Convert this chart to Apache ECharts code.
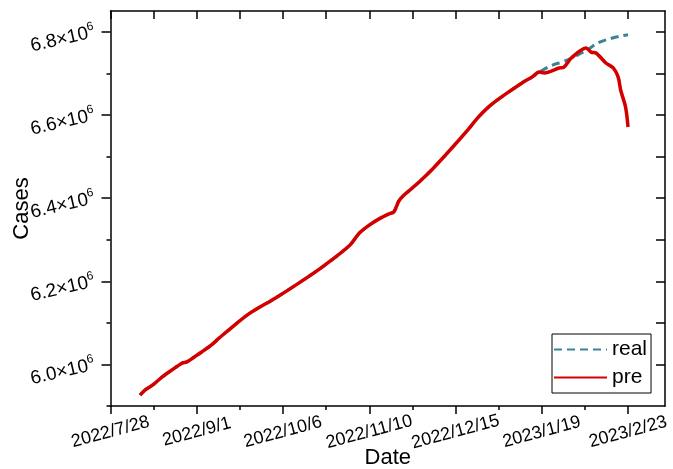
<!DOCTYPE html>
<html><head><meta charset="utf-8">
<script src="https://cdn.jsdelivr.net/npm/echarts@6/dist/echarts.min.js"></script>
<style>html,body{margin:0;padding:0;background:#fff}#c{width:673px;height:469px}</style>
</head><body><div id="c"></div>
<script>
// ---- data ----
const preDates = ['2022-08-09','2022-08-11','2022-08-14','2022-08-18','2022-08-22','2022-08-26','2022-08-28','2022-08-31',
  '2022-09-03','2022-09-07','2022-09-10','2022-09-13','2022-09-22','2022-10-03','2022-10-13','2022-10-23','2022-11-02',
  '2022-11-06','2022-11-10','2022-11-14','2022-11-18','2022-11-20','2022-11-22','2022-11-24','2022-11-27','2022-12-01',
  '2022-12-06','2022-12-11','2022-12-16','2022-12-20','2022-12-24','2022-12-28','2023-01-01','2023-01-05','2023-01-11',
  '2023-01-15','2023-01-18','2023-01-20','2023-01-26','2023-01-28','2023-01-31','2023-02-06','2023-02-08','2023-02-10',
  '2023-02-14','2023-02-17','2023-02-19','2023-02-20','2023-02-22','2023-02-23'];
const preValues = [5926000,5938000,5950000,5970000,5987000,6003000,6006000,6018000,
  6030000,6047000,6063000,6078000,6121000,6160000,6198000,6239000,6286000,
  6316000,6335000,6350000,6362000,6367000,6393000,6407000,6422000,6443000,
  6472000,6504000,6537000,6564000,6593000,6617000,6636000,6653000,6677000,
  6691000,6703000,6701000,6713000,6715000,6737000,6761000,6751000,6749000,
  6725000,6713000,6691000,6660000,6619000,6571000];
const realDates = ['2022-08-09','2022-08-11','2022-08-14','2022-08-18','2022-08-22','2022-08-26','2022-08-28','2022-08-31',
  '2022-09-03','2022-09-07','2022-09-10','2022-09-13','2022-09-22','2022-10-03','2022-10-13','2022-10-23','2022-11-02',
  '2022-11-06','2022-11-10','2022-11-14','2022-11-18','2022-11-20','2022-11-22','2022-11-24','2022-11-27','2022-12-01',
  '2022-12-06','2022-12-11','2022-12-16','2022-12-20','2022-12-24','2022-12-28','2023-01-01','2023-01-05','2023-01-11',
  '2023-01-15','2023-01-18','2023-01-23','2023-01-29','2023-02-06','2023-02-11','2023-02-16','2023-02-21','2023-02-23'];
const realValues = [5926000,5938000,5950000,5970000,5987000,6003000,6006000,6018000,
  6030000,6047000,6063000,6078000,6121000,6160000,6198000,6239000,6286000,
  6316000,6335000,6350000,6362000,6367000,6393000,6407000,6422000,6443000,
  6472000,6504000,6537000,6564000,6593000,6617000,6636000,6653000,6677000,
  6691000,6703000,6719000,6731000,6755000,6774000,6784000,6791000,6793000];
const xTickDates = ['2022-07-28','2022-09-01','2022-10-06','2022-11-10','2022-12-15','2023-01-19','2023-02-23'];
const xStartDate = '2022-07-28';
const xEndDate = '2023-03-10';
const yTicks = [6.0e6, 6.2e6, 6.4e6, 6.6e6, 6.8e6];
const yMinorTicks = [5.9e6, 6.1e6, 6.3e6, 6.5e6, 6.7e6];
const yMin = 5.9e6, yMax = 6.85e6;

// ---- helpers ----
const DAY = 86400000;
const t0 = Date.parse(xStartDate);
const toDay = s => Math.round((Date.parse(s) - t0) / DAY);
const fmtDay = v => { const d = new Date(t0 + v * DAY); return d.getUTCFullYear() + '/' + (d.getUTCMonth() + 1) + '/' + d.getUTCDate(); };
const xMajor = xTickDates.map(toDay);
const xMinor = xMajor.slice(0, -1).map((v, i) => (v + xMajor[i + 1]) / 2);
const xAll = xMajor.concat(xMinor).sort((a, b) => a - b);
const yAll = yTicks.concat(yMinorTicks.filter(v => v > yTicks[0])).sort((a, b) => a - b);
const FONT = 'Liberation Sans, Arial, sans-serif';

const preData = preDates.map((d, i) => [toDay(d), preValues[i]]);
const realData = realDates.map((d, i) => [toDay(d), realValues[i]]);

const baseX = { type: 'value', min: 0, max: toDay(xEndDate), splitLine: { show: false },
  axisLine: { show: true, onZero: false, lineStyle: { color: '#000', width: 1.5 } } };
const baseY = { type: 'value', min: yMin, max: yMax, splitLine: { show: false },
  axisLine: { show: true, onZero: false, lineStyle: { color: '#000', width: 1.5 } } };

const chart = echarts.init(document.getElementById('c'), null, { renderer: 'canvas' });
chart.setOption({
  animation: false,
  backgroundColor: '#fff',
  textStyle: { fontFamily: FONT },
  grid: { left: 110.5, right: 8, top: 11, bottom: 63, containLabel: false, outerBoundsMode: 'none' },
  xAxis: [
    Object.assign({}, baseX, { position: 'bottom', name: 'Date', nameLocation: 'middle', nameGap: 41, nameMoveOverlap: false,
      nameTextStyle: { fontSize: 22, color: '#000', fontFamily: FONT },
      axisTick: { show: true, length: 8, inside: false, customValues: xMajor, lineStyle: { color: '#000', width: 1.5 } },
      axisLabel: { show: true, customValues: xMajor, formatter: fmtDay, rotate: 15, align: 'center', verticalAlign: 'middle',
        margin: 26, fontSize: 18, color: '#000', fontFamily: FONT } }),
    Object.assign({}, baseX, { position: 'bottom', axisLine: { show: false },
      axisTick: { show: true, length: 4, inside: false, customValues: xMinor, lineStyle: { color: '#000', width: 1.5 } },
      axisLabel: { show: false } }),
    Object.assign({}, baseX, { position: 'top',
      axisTick: { show: true, length: 8, inside: true, customValues: xAll, lineStyle: { color: '#000', width: 1.5 } },
      axisLabel: { show: false } })
  ],
  yAxis: [
    Object.assign({}, baseY, { position: 'left', name: 'Cases', nameLocation: 'middle', nameGap: 78, nameRotate: 90, nameMoveOverlap: false,
      nameTextStyle: { fontSize: 22, color: '#000', fontFamily: FONT },
      axisTick: { show: true, length: 9, inside: false, customValues: yTicks, lineStyle: { color: '#000', width: 1.5 } },
      axisLabel: { show: true, customValues: yTicks, rotate: 13, margin: 16, color: '#000',
        formatter: v => '{a|' + (v / 1e6).toFixed(1) + '×10}{s|6}',
        rich: { a: { fontSize: 19, lineHeight: 24, fontFamily: FONT, color: '#000' },
                s: { fontSize: 12, lineHeight: 12, verticalAlign: 'top', fontFamily: FONT, color: '#000' } } } }),
    Object.assign({}, baseY, { position: 'left', axisLine: { show: false },
      axisTick: { show: true, length: 4, inside: false, customValues: yMinorTicks, lineStyle: { color: '#000', width: 1.5 } },
      axisLabel: { show: false } }),
    Object.assign({}, baseY, { position: 'right',
      axisTick: { show: true, length: 9, inside: true, customValues: yAll, lineStyle: { color: '#000', width: 1.5 } },
      axisLabel: { show: false } })
  ],
  legend: {
    orient: 'vertical', left: 552, top: 334, data: ['real', 'pre'],
    borderColor: '#000', borderWidth: 1, borderRadius: 0, backgroundColor: '#fff',
    padding: [5, 4, 5, 1], itemWidth: 53, itemHeight: 14, itemGap: 7,
    itemStyle: { opacity: 0, color: 'rgba(0,0,0,0)', borderWidth: 0 },
    textStyle: { fontSize: 21, color: '#000', fontFamily: FONT, padding: [0, 0, 0, 0] }
  },
  series: [
    { name: 'real', type: 'line', xAxisIndex: 0, yAxisIndex: 0, data: realData, symbol: 'none', smooth: 0.3,
      lineStyle: { color: '#3B8396', width: 3, type: [8, 5] }, itemStyle: { color: '#3B8396' }, z: 2 },
    { name: 'pre', type: 'line', xAxisIndex: 0, yAxisIndex: 0, data: preData, symbol: 'none', smooth: 0.3,
      lineStyle: { color: '#D40000', width: 3.5 }, itemStyle: { color: '#D40000' }, z: 3 }
  ]
});
</script></body></html>
